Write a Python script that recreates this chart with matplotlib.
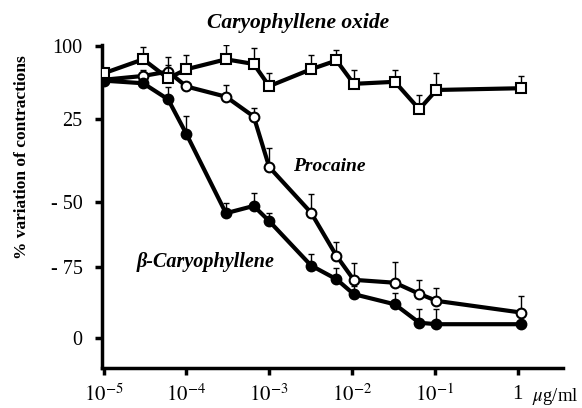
import matplotlib
matplotlib.use("Agg")
import matplotlib.pyplot as plt
import numpy as np

plt.rcParams['font.family'] = ['Liberation Serif', 'DejaVu Serif']
plt.rcParams['mathtext.fontset'] = 'stix'

# concentrations (ug/ml)
conc = [1e-5, 3e-5, 6e-5, 1e-4, 3e-4, 6.5e-4, 1e-3, 3.2e-3, 6.5e-3, 1.05e-2, 3.3e-2, 6.5e-2, 1.05e-1, 1.1]

# % variation (plotted on the figure's own vertical scale)
oxide = [90.6, 95.4, 88.9, 92.0, 95.4, 93.8, 86.2, 92.0, 95.0, 87.0, 87.7, 78.3, 84.9, 85.5]
oxide_err = [0.0, 4.3, 4.5, 4.8, 4.8, 5.4, 4.6, 4.8, 3.7, 4.8, 4.1, 4.8, 5.8, 4.3]

procaine = [88.4, 89.7, 91.2, 86.1, 82.6, 75.8, 58.5, 42.9, 28.1, 19.9, 18.9, 15.1, 12.7, 8.7]
procaine_err = [0.0, 2.0, 5.0, 0.0, 4.0, 3.1, 6.5, 6.3, 4.9, 5.7, 7.2, 4.8, 4.3, 5.5]

beta = [88.1, 87.2, 81.7, 69.8, 42.7, 45.2, 40.0, 24.8, 20.1, 15.0, 11.5, 5.2, 4.7, 4.7]
beta_err = [0.0, 0.0, 4.3, 6.3, 3.6, 4.3, 2.8, 4.0, 3.8, 2.7, 3.8, 4.6, 5.1, 0.0]

xticks = [1e-5, 1e-4, 1e-3, 1e-2, 1e-1, 1]
xticklabels = [r'$10^{-5}$', r'$10^{-4}$', r'$10^{-3}$', r'$10^{-2}$', r'$10^{-1}$', '1']
yticks = [100, 75, 46.6, 24.3, 0]
yticklabels = ['100', '25', '- 50', '- 75', '0']

fig = plt.figure(figsize=(5.82, 4.08), dpi=100)
ax = fig.add_axes([0.1753, 0.098, 0.9674 - 0.1753, 0.8897 - 0.098])

lw = 3.0
ms = 7
def series(y, err, z):
    ax.errorbar(conc, y, yerr=[np.zeros(len(err)), err], fmt='none', ecolor='black',
                elinewidth=1.0, capsize=2.5, capthick=1.0, zorder=z - 0.5)
    ax.plot(conc, y, color='black', lw=lw, zorder=z)

series(procaine, procaine_err, 2)
series(beta, beta_err, 3)
series(oxide, oxide_err, 4)
ax.plot(conc, procaine, 'o', ms=ms, mfc='white', mec='black', mew=1.5, zorder=2.1)
ax.plot(conc, beta, 'o', ms=ms, mfc='black', mec='black', mew=1.5, zorder=3.1)
ax.plot(conc, oxide, 's', ms=ms, mfc='white', mec='black', mew=1.5, zorder=4.1)

ax.set_xscale('log')
ax.set_xlim(10 ** -5.02, 10 ** 0.55)
ax.set_ylim(-10.3, 100.3)
ax.minorticks_off()
ax.set_xticks(xticks)
ax.set_xticklabels(xticklabels, fontsize=15)
ax.set_yticks(yticks)
ax.set_yticklabels(yticklabels, fontsize=14.5)
ax.tick_params(axis='both', width=2.5, length=5, direction='out')
ax.tick_params(axis='y', pad=9)
ax.tick_params(axis='x', pad=7)
for s in ['top', 'right']:
    ax.spines[s].set_visible(False)
for s in ['left', 'bottom']:
    ax.spines[s].set_linewidth(2.5)
ax.patch.set_alpha(0)

fig.text(0.038, 0.615, '% variation of contractions', rotation=90, ha='center', va='center',
         fontsize=12.5, fontweight='bold')
fig.text(0.994, 0.027, r'$\mu$g/ml', ha='right', va='center', fontsize=13.5)
fig.text(0.512, 0.9436, 'Caryophyllene oxide', ha='center', va='center', fontsize=15.5,
         fontweight='bold', style='italic')
fig.text(0.5653, 0.593, 'Procaine', ha='center', va='center', fontsize=14,
         fontweight='bold', style='italic')
fig.text(0.354, 0.358, 'β-Caryophyllene', ha='center', va='center', fontsize=14.5,
         fontweight='bold', style='italic')

fig.savefig('out.png', dpi=100)
